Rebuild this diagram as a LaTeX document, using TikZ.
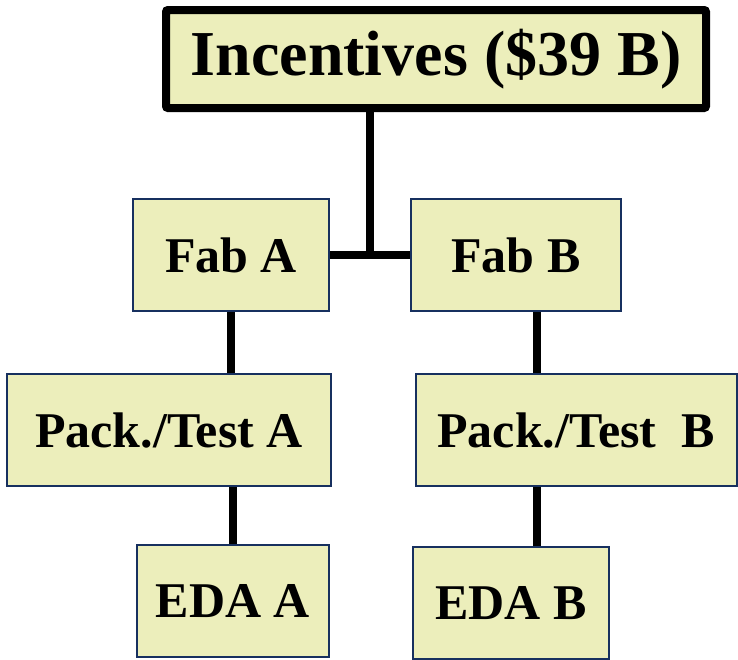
\documentclass[tikz,border=0pt]{standalone}
\usepackage{fontspec}
\setmainfont{Liberation Serif}
\usepackage{tikz}
\usetikzlibrary{positioning, calc}
\definecolor{boxfill}{HTML}{ECEEBB}
\definecolor{boxnavy}{HTML}{17305F}

\begin{document}
\begin{tikzpicture}[
    x=1pt, y=1pt,
    node distance=61pt and 80pt,
    unit/.style={rectangle, draw=boxnavy, fill=boxfill, line width=2pt, inner sep=0pt, minimum height=112pt, font=\fontsize{50}{60}\selectfont\bfseries},
    topbox/.style={rectangle, draw=black, fill=boxfill, line width=8pt, rounded corners=2pt, inner sep=0pt, minimum width=540pt, minimum height=98pt, font=\fontsize{64}{76}\selectfont\bfseries},
    link/.style={line width=8pt, draw=black}
]
\useasboundingbox (0,0) rectangle (738,-659);
\node[unit, minimum width=196pt] (fabA) at (231,-255) {Fab A};
\node[unit, minimum width=210pt, right=of fabA] (fabB) {Fab B};
\node[topbox, above=86pt of fabB, xshift=-80pt] (top) {Incentives (\$39 B)};
\node[unit, minimum width=324pt, below=of fabA, xshift=-62pt] (packA) {Pack./Test A};
\node[unit, minimum width=321pt, below=of fabB, xshift=60pt] (packB) {Pack./Test~~B};
\node[unit, minimum width=192pt, below=57pt of packA, xshift=64pt] (edaA) {EDA A};
\node[unit, minimum width=196pt, below=59pt of packB, xshift=-65pt] (edaB) {EDA B};
\coordinate (junc) at ($(fabA.east)!0.5!(fabB.west)$);
\draw[link] (fabA) -- (fabB);
\draw[link] (junc) -- (junc |- top.south);
\draw[link] (fabA.south) -- (fabA.south |- packA.north);
\draw[link] (edaA.north) -- (edaA.north |- packA.south);
\draw[link] ([xshift=21pt]fabB.south) -- ([xshift=21pt]fabB.south |- packB.north);
\draw[link] ([xshift=26pt]edaB.north) -- ([xshift=26pt]edaB.north |- packB.south);
\end{tikzpicture}
\end{document}
